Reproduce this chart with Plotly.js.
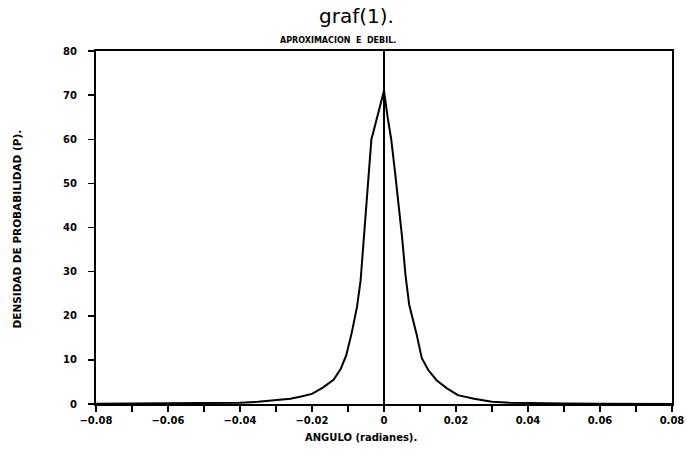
<!DOCTYPE html>
<html>
<head>
<meta charset="utf-8">
<script src="https://cdn.plot.ly/plotly-3.0.1.min.js"></script>
<style>html,body{margin:0;padding:0;background:#fff;}#chart{width:687px;height:453px;}</style>
</head>
<body>
<div id="chart"></div>
<script>
// Angle (radians)
const angulo = [
  -0.08, -0.06, -0.05, -0.04, -0.035, -0.03, -0.026, -0.023, -0.02, -0.017,
  -0.014, -0.012, -0.0105, -0.009, -0.0075, -0.0065, -0.0055, -0.0045, -0.0035, -0.003,
  -0.002, -0.001, 0,
  0.001, 0.002, 0.003, 0.004, 0.005, 0.006, 0.007, 0.009, 0.0105, 0.0123,
  0.0146, 0.0174, 0.0205, 0.025, 0.03, 0.035, 0.04, 0.05, 0.06, 0.08
];
// Probability density (P)
const densidad = [
  0.03, 0.08, 0.15, 0.3, 0.5, 0.8, 1.2, 1.7, 2.3, 3.7,
  5.5, 8.0, 11.0, 16.0, 22.0, 28.0, 38.0, 50.0, 60.0, 61.5,
  64.5, 67.5, 71.0,
  65.0, 60.0, 53.0, 46.0, 38.0, 29.0, 22.5, 16.0, 10.4, 7.7,
  5.4, 3.6, 2.0, 1.2, 0.5, 0.3, 0.2, 0.1, 0.05, 0.02
];
const xTickVals = [-0.08, -0.06, -0.04, -0.02, 0, 0.02, 0.04, 0.06, 0.08];
const xTickText = ['\u22120.08', '\u22120.06', '\u22120.04', '\u22120.02', '0', '0.02', '0.04', '0.06', '0.08'];
const yTickVals = [0, 10, 20, 30, 40, 50, 60, 70, 80];

const tickFont = {family: 'DejaVu Sans', size: 10, color: '#000', weight: 'bold'};

const trace = {
  x: angulo, y: densidad, type: 'scatter', mode: 'lines',
  line: {color: '#000', width: 2}, hoverinfo: 'skip'
};

const layout = {
  width: 687, height: 453,
  margin: {l: 96, r: 15, t: 51, b: 49},
  paper_bgcolor: '#fff', plot_bgcolor: '#fff',
  showlegend: false,
  xaxis: {
    range: [-0.08, 0.08],
    tickmode: 'array', tickvals: xTickVals, ticktext: xTickText,
    ticks: 'outside', ticklen: 6, tickwidth: 1.5, tickcolor: '#000',
    minor: {dtick: 0.01, tick0: 0, ticks: 'outside', ticklen: 6, tickwidth: 1.5, tickcolor: '#000', showgrid: false},
    showline: true, linecolor: '#000', linewidth: 2, mirror: true,
    showgrid: false,
    zeroline: true, zerolinecolor: '#000', zerolinewidth: 2,
    tickfont: tickFont
  },
  yaxis: {
    range: [0, 80],
    tickmode: 'array', tickvals: yTickVals,
    ticks: 'outside', ticklen: 6, tickwidth: 1.5, tickcolor: '#000',
    ticklabelstandoff: 9,
    showline: true, linecolor: '#000', linewidth: 2, mirror: true,
    showgrid: false, zeroline: false,
    tickfont: tickFont
  },
  annotations: [
    {text: 'graf(1).', xref: 'paper', yref: 'paper', x: 0.452, y: 1.0, yshift: 35,
     xanchor: 'center', yanchor: 'middle', showarrow: false,
     font: {family: 'DejaVu Sans', size: 20, color: '#000'}},
    {text: 'APROXIMACION\u00a0\u00a0E\u00a0\u00a0DEBIL.', xref: 'paper', yref: 'paper', x: 0.42, y: 1.0, yshift: 11,
     xanchor: 'center', yanchor: 'middle', showarrow: false,
     font: {family: 'DejaVu Sans', size: 8, color: '#000', weight: 'bold'}},
    {text: 'ANGULO (radianes).', xref: 'paper', yref: 'paper', x: 0.46, y: 0, yshift: -33,
     xanchor: 'center', yanchor: 'middle', showarrow: false,
     font: {family: 'DejaVu Sans', size: 10, color: '#000', weight: 'bold'}},
    {text: 'DENSIDAD DE PROBABILIDAD (P).', xref: 'paper', yref: 'paper', x: 0, xshift: -80, y: 0.5, yshift: -2,
     textangle: -90, xanchor: 'center', yanchor: 'middle', showarrow: false,
     font: {family: 'DejaVu Sans', size: 10.5, color: '#000', weight: 'bold'}}
  ]
};

Plotly.newPlot('chart', [trace], layout, {staticPlot: true, displayModeBar: false});
</script>
</body>
</html>
